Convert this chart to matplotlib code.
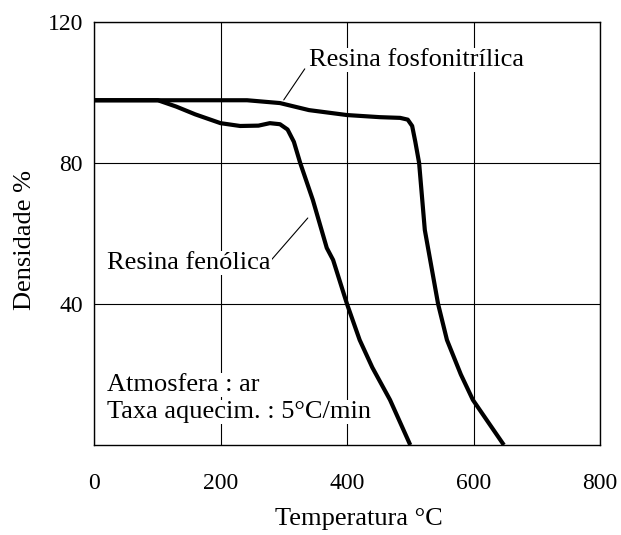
import matplotlib
matplotlib.use("Agg")
import matplotlib.pyplot as plt

plt.rcParams["font.family"] = ["Liberation Serif", "DejaVu Serif"]

# Resina fosfonitrilica
fosfo_temp = [0, 100, 200, 242, 294, 340, 400, 452, 484, 496, 503, 508, 514, 523, 544, 558, 580, 599, 625, 648]
fosfo_dens = [97.8, 97.8, 97.8, 97.8, 97.0, 95.0, 93.6, 93.0, 92.8, 92.3, 90.5, 86.0, 80.0, 61.0, 40.0, 29.8, 20.0, 12.8, 6.0, 0.0]

# Resina fenolica
fenol_temp = [0, 101, 130, 160, 200, 231, 260, 278, 294, 306, 316, 326, 346, 368, 378, 400, 420, 440, 468, 485, 500]
fenol_dens = [97.8, 97.8, 96.0, 93.8, 91.3, 90.5, 90.6, 91.3, 91.0, 89.5, 86.0, 80.0, 69.5, 55.9, 52.5, 40.0, 29.8, 22.0, 12.8, 6.0, 0.0]

x_ticks = [0, 200, 400, 600, 800]
y_ticks = [40, 80, 120]

fig = plt.figure(figsize=(6.21, 5.35), dpi=100)
ax = fig.add_axes([0.1514, 0.1682, 0.8148, 0.7907])

ax.plot(fosfo_temp, fosfo_dens, color="black", lw=3.0, solid_capstyle="butt")
ax.plot(fenol_temp, fenol_dens, color="black", lw=3.0, solid_capstyle="butt")

ax.set_xlim(0, 800)
ax.set_ylim(0, 120)
ax.set_xticks(x_ticks)
ax.set_yticks(y_ticks)
ax.grid(True, color="black", lw=0.8)
ax.set_axisbelow(True)
ax.tick_params(length=0, labelsize=17)
ax.tick_params(axis="x", pad=20)
ax.tick_params(axis="y", pad=8)
for s in ax.spines.values():
    s.set_linewidth(1.0)

ax.set_xlabel("Temperatura °C", fontsize=19)
ax.xaxis.set_label_coords(0.524, -0.148)
ax.set_ylabel("Densidade %", fontsize=19)
ax.yaxis.set_label_coords(-0.115, 0.485)

box = dict(facecolor="white", edgecolor="none", pad=1)
ax.annotate("Resina fosfonitrílica", xy=(300, 97.9), xytext=(340, 109.2),
            fontsize=19, ha="left", va="center", bbox=box,
            arrowprops=dict(arrowstyle="-", color="black", lw=0.8, shrinkA=0, shrinkB=0,
                            relpos=(-0.02, 0.1)))
ax.annotate("Resina fenólica", xy=(338, 64.4), xytext=(20.5, 51.6),
            fontsize=19, ha="left", va="center", bbox=box,
            arrowprops=dict(arrowstyle="-", color="black", lw=0.8, shrinkA=0, shrinkB=0,
                            relpos=(1, 0.6)))
ax.text(20.5, 17.0, "Atmosfera : ar", fontsize=19, ha="left", va="center", bbox=box)
ax.text(20.5, 9.4, "Taxa aquecim. : 5°C/min", fontsize=19, ha="left", va="center", bbox=box)

fig.savefig("out.png", dpi=100)
